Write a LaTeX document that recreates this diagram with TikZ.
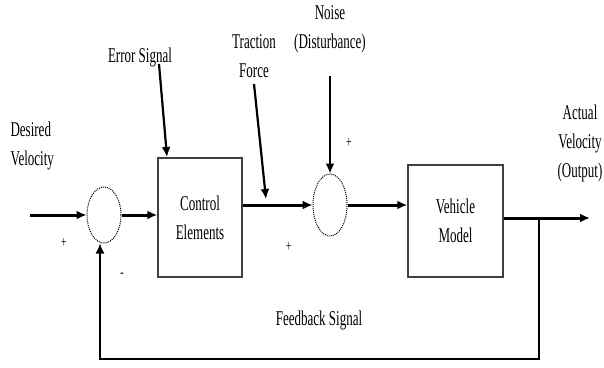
\documentclass[tikz,border=0pt]{standalone}
\usepackage{fontspec}
\setmainfont{Liberation Serif}[FakeStretch=0.62]
\usetikzlibrary{arrows.meta,positioning,shapes.geometric}

\begin{document}
\begin{tikzpicture}[x=1pt,y=-1pt,>={Latex[length=10pt,width=9pt]},
  every node/.style={font=\fontsize{21}{29}\selectfont},
  block/.style={draw=black!75,line width=1.5pt,align=center,inner sep=0pt},
  sumnode/.style={draw,ellipse,densely dotted,line width=1pt,inner sep=0pt,minimum width=34pt},
  sign/.style={font=\fontsize{16}{16}\selectfont,inner sep=0pt},
  sig/.style={line width=3pt},
  fb/.style={line width=1.4pt},
  lab/.style={line width=2.2pt}]
  \useasboundingbox (0,0) rectangle (604,367);

  \node[sumnode,minimum height=56pt] (sum1) at (104,215) {};
  \node[block,minimum width=84pt,minimum height=119pt] (ctrl) at (200,217.5) {Control\\Elements};
  \node[sumnode,minimum height=62pt] (sum2) at (330,205) {};
  \node[block,minimum width=95pt,minimum height=112pt] (veh) at (455.5,221) {Vehicle\\Model};

  \node[align=left,anchor=west] (desired) at (7,146) {Desired\\Velocity};
  \node (error) at (140,57) {Error Signal};
  \node[align=center] (traction) at (254,56) {Traction\\Force};
  \node[align=center] (noise) at (330,29) {Noise\\(Disturbance)};
  \node[align=center] (actual) at (580,143) {Actual\\Velocity\\(Output)};
  \node (feedback) at (319,320) {Feedback Signal};

  \node[sign] (p1) at (64,243) {+};
  \node[sign] (m1) at (122,275) {-};
  \node[sign] (p2) at (289,247) {+};
  \node[sign] (p3) at (349,143) {+};

  \coordinate (in) at (30,215);
  \coordinate (out) at (590,218);
  \coordinate (tap) at (539,218);
  \coordinate (errtail) at (159,64);
  \coordinate (errhead) at (167,157);
  \coordinate (tractail) at (254,84);
  \coordinate (trachead) at (266,199);
  \coordinate (noisetail) at (330,76);

  \draw[sig,->] (in) -- (sum1.west);
  \draw[sig,->] (sum1.east) -- (sum1.east -| ctrl.west);
  \draw[sig,->] (ctrl.east |- sum2.west) -- (sum2.west);
  \draw[sig,->] (sum2.east) -- (sum2.east -| veh.west);
  \draw[sig,->] (veh.east |- out) -- (out);
  \draw[fb,->] (tap) -- ++(0,141) -| ([xshift=-4pt]sum1.south);

  \draw[lab,->] (errtail) -- (errhead);
  \draw[lab,->] (tractail) -- (trachead);
  \draw[lab,->] (noisetail) -- (sum2.north);
\end{tikzpicture}
\end{document}
